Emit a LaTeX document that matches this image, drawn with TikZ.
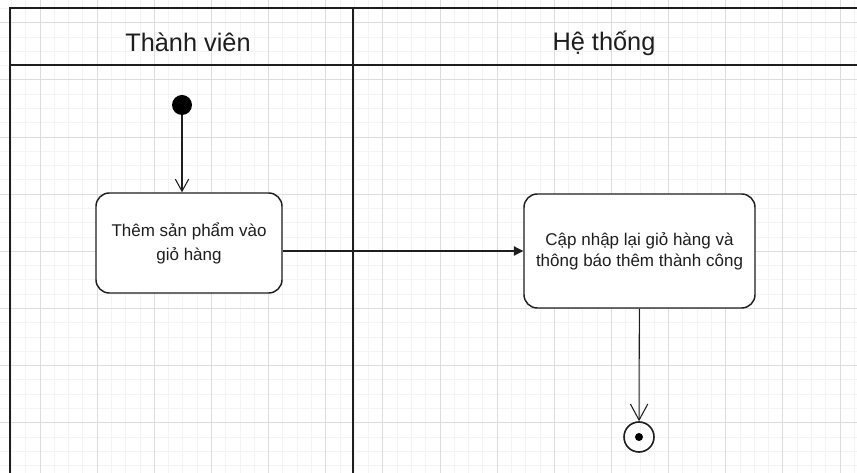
\documentclass[tikz,border=0pt]{standalone}
\usepackage{fontspec}
\setmainfont{Liberation Sans}
\usetikzlibrary{arrows.meta, positioning, calc}
\definecolor{gridminor}{RGB}{244,244,244}
\definecolor{gridmajor}{RGB}{221,221,221}
\definecolor{inkgray}{RGB}{30,30,30}

\begin{document}
\begin{tikzpicture}[x=0.75pt, y=-0.75pt,
    lane/.style={inkgray, line width=1.5pt},
    title/.style={text=inkgray, font=\fontsize{19}{23}\selectfont},
    action/.style={draw=inkgray, line width=1.1pt, fill=white, rounded corners=10pt, align=center, text=inkgray},
    flow/.style={inkgray, line width=0.8pt}]
    \useasboundingbox (0,0) rectangle (857,473);
    \clip (0,0) rectangle (857,473);
    \fill[white] (0,0) rectangle (857,473);
    \foreach \i in {0,...,63} {
      \draw[gridminor, line width=0.6pt] (-17.14+\i*14.285,0) -- ++(0,473);
    }
    \foreach \i in {0,...,36} {
      \draw[gridminor, line width=0.6pt] (0,-34.44+\i*14.285) -- ++(857,0);
    }
    \foreach \i in {0,...,15} {
      \draw[gridmajor, line width=0.7pt] (-17.14+\i*57.14,0) -- ++(0,473);
    }
    \foreach \i in {0,...,9} {
      \draw[gridmajor, line width=0.7pt] (0,-34.44+\i*57.14) -- ++(857,0);
    }
    \draw[lane] (10,480) -- (10,8) -- (870,8);
    \draw[lane] (10,65) -- (870,65);
    \draw[lane] (353,8) -- (353,480);
    \node[title] (member) at (188,42) {Thành viên};
    \node[title] (system) at (604,43) {Hệ thống};
    \node[circle, fill=black, minimum size=15pt, inner sep=0pt] (start) at (182,105) {};
    \node[action, minimum width=139.5pt, minimum height=75pt, font=\fontsize{12.75}{18}\selectfont] (add) at (189,243) {Thêm sản phẩm vào\\giỏ hàng};
    \node[action, minimum width=173.25pt, minimum height=85.5pt, font=\fontsize{12.75}{15.75}\selectfont] (update) at (639.5,251) {Cập nhập lại giỏ hàng và\\thông báo thêm thành công};
    \node[circle, draw=inkgray, line width=1.2pt, minimum size=22.5pt, inner sep=0pt] (stop) at (639,437) {};
    \fill[black] (stop.center) circle (3pt);
    \draw[flow, -{Straight Barb[length=9pt, width=10pt]}] (start) -- (start |- add.north);
    \draw[flow, -{Triangle[length=7pt, width=7pt]}] (add.east |- update.west) -- (update.west);
    \draw[flow, -{Straight Barb[length=12pt, width=13pt]}] (update) -- (stop);
  \end{tikzpicture}
\end{document}
